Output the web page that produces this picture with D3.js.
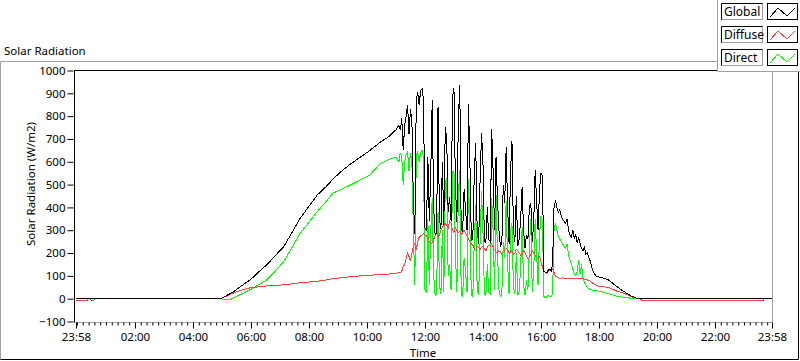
<!DOCTYPE html>
<html>
<head>
<meta charset="utf-8">
<script src="https://cdn.jsdelivr.net/npm/d3@7"></script>
<style>
  body { margin: 0; background: #fff; }
  svg text { font-family: "Noto Sans", sans-serif; font-size: 11.5px; fill: #000; }
</style>
</head>
<body>
<div id="chart"></div>
<script>
// time of each sample, minutes after midnight (-2 = 23:58 of the day before)
var minutes = [
  -2, 22, 23, 28, 29, 35, 36, 297, 305, 313, 317, 324, 335, 345, 359, 375, 393, 410, 428, 445,
  462, 480, 497, 515, 530, 548, 566, 586, 605, 627, 645, 660, 666, 669,
  672, 675, 678, 681, 684, 687, 690, 693, 696, 699, 702, 705, 708, 711, 714, 717, 720, 723, 726, 729,
  732, 735, 738, 741, 744, 747, 750, 753, 756, 759, 762, 765, 768, 771, 774, 777, 780, 783, 786, 789,
  792, 795, 798, 801, 804, 807, 810, 813, 816, 819, 822, 825, 828, 831, 834, 837, 840, 843, 846, 849,
  852, 855, 858, 861, 864, 867, 870, 873, 876, 879, 882, 885, 888, 891, 894, 897, 900, 903, 906, 909,
  912, 915, 918, 921, 924, 927, 930, 933, 936, 939, 942, 945, 948, 951, 954, 957, 960, 963, 966, 969,
  972, 975, 978, 981, 984, 987, 990, 993, 996, 999, 1002, 1005, 1008, 1011, 1014, 1017, 1020,
  1023, 1026, 1029, 1032, 1035, 1038, 1041, 1044, 1047, 1050, 1053, 1056, 1059, 1062, 1066, 1070,
  1075, 1080, 1090, 1100, 1110, 1117, 1125, 1138, 1148, 1155, 1158, 1162, 1165, 1168, 1420, 1421, 1438
];

var globalRad = [
  0, 0, 0, 0, 0, 0, 0, 0, 8, 18, 22, 31, 48, 63, 83, 115, 149, 188, 229, 290,
  353, 405, 454, 490, 525, 560, 590, 620, 648, 685, 710, 740, 760, 738,
  790, 650, 760, 800, 850, 720, 830, 780, 430, 285, 870, 905, 850, 912, 920, 870, 310, 300, 620, 340,
  560, 870, 400, 280, 290, 838, 350, 305, 600, 325, 752, 700, 380, 445, 340, 880, 925, 500, 335, 780,
  935, 300, 295, 480, 390, 300, 855, 600, 256, 260, 550, 680, 300, 240, 520, 725, 600, 250, 245, 400,
  260, 250, 745, 560, 300, 620, 437, 300, 230, 240, 500, 420, 665, 400, 240, 560, 690, 300, 250, 450,
  230, 260, 350, 490, 300, 220, 280, 260, 400, 420, 250, 330, 563, 430, 300, 480, 550, 540, 120, 115,
  113, 125, 130, 120, 150, 402, 430, 400, 380, 390, 360, 345, 340, 330, 350, 300, 280,
  270, 300, 265, 280, 245, 270, 240, 220, 210, 225, 195, 200, 180, 165, 130, 110,
  98, 95, 90, 82, 65, 53, 40, 23, 10, 5, 2, 0, 0, 0, 0, 0, 0
];

var diffuseRad = [
  -6, -6, 0, 0, -6, -6, 0, 0, 8, 14, 18, 25, 33, 40, 48, 52, 56, 58, 61, 65,
  70, 73, 76, 82, 88, 92, 96, 100, 103, 105, 108, 112, 113, 113,
  120, 141, 150, 175, 200, 185, 165, 200, 230, 240, 215, 250, 270, 275, 280, 285, 280, 275, 265, 250,
  240, 245, 260, 275, 290, 270, 280, 300, 315, 320, 330, 320, 310, 340, 330, 300, 290, 310, 300, 290,
  295, 280, 290, 300, 285, 275, 260, 250, 240, 235, 220, 215, 230, 225, 215, 225, 230, 220, 210, 225,
  235, 230, 240, 225, 215, 205, 200, 210, 205, 195, 200, 210, 220, 215, 200, 205, 210, 195, 200, 215,
  210, 200, 190, 205, 210, 200, 185, 175, 180, 195, 210, 200, 190, 180, 175, 185, 160, 140, 120, 115,
  110, 118, 125, 120, 130, 115, 100, 95, 92, 88, 90, 92, 88, 90, 88, 90, 88,
  88, 90, 89, 90, 88, 90, 89, 88, 88, 86, 84, 82, 80, 76, 70, 64,
  58, 54, 52, 49, 40, 33, 28, 18, 8, 4, 2, 0, 0, -6, -6, 0, 0
];

var directRad = [
  0, 0, 0, 0, 0, 0, 0, 0, -5, -5, -5, 5, 15, 25, 40, 60, 83, 120, 163, 225,
  287, 335, 381, 425, 463, 480, 498, 520, 540, 590, 610, 620, 600, 640,
  620, 500, 600, 630, 645, 560, 640, 600, 300, 60, 630, 645, 600, 640, 650, 620, 40, 25, 350, 60,
  300, 440, 100, 15, 20, 380, 60, 20, 300, 30, 505, 530, 100, 150, 40, 555, 560, 200, 30, 450,
  565, 20, 10, 180, 120, 30, 525, 300, 15, 10, 250, 410, 40, 15, 250, 470, 300, 20, 15, 150,
  25, 20, 440, 300, 40, 455, 200, 40, 10, 20, 250, 180, 430, 150, 20, 300, 330, 50, 20, 200,
  15, 30, 140, 315, 60, 15, 80, 40, 220, 350, 30, 120, 350, 200, 60, 280, 360, 340, 10, 5,
  8, 15, 10, 8, 20, 300, 330, 300, 270, 260, 250, 240, 230, 220, 240, 190, 170,
  150, 130, 110, 100, 120, 170, 110, 150, 90, 70, 60, 50, 45, 40, 38, 36,
  35, 33, 28, 22, 15, 10, 8, 4, 2, 1, 0, 0, 0, 0, 0, 0, 0
];

var seriesNames = ["Global", "Diffuse", "Direct"];
var yTickValues = [-100, 0, 100, 200, 300, 400, 500, 600, 700, 800, 900, 1000];
var xTickMinutes = [-2, 120, 240, 360, 480, 600, 720, 840, 960, 1080, 1200, 1320, 1438];
var xTickLabels = ["23:58", "02:00", "04:00", "06:00", "08:00", "10:00", "12:00", "14:00",
  "16:00", "18:00", "20:00", "22:00", "23:58"];

var colors = { Global: "#000000", Diffuse: "#ff4040", Direct: "#00ff00" };

var width = 800;
var height = 361;
var plot = { left: 74.5, top: 70.5, right: 772.5, bottom: 322.5 };

var svg = d3.select("#chart")
  .append("svg")
  .attr("width", width)
  .attr("height", height);

// outer frame (gray top/left, black right/bottom)
svg.append("path")
  .attr("d", "M0.5,359.5 L0.5,61.5 L798.5,61.5")
  .style("fill", "none").style("stroke", "#a0a0a0");
svg.append("path")
  .attr("d", "M0.5,359.5 L798.5,359.5 L798.5,61.5")
  .style("fill", "none").style("stroke", "#000");

svg.append("text")
  .attr("x", 4)
  .attr("y", 55)
  .text("Solar Radiation");

// plot area border
svg.append("rect")
  .attr("x", plot.left).attr("y", plot.top)
  .attr("width", plot.right - plot.left).attr("height", plot.bottom - plot.top)
  .style("fill", "#fff");
svg.append("path")
  .attr("d", "M" + plot.left + "," + plot.bottom + " L" + plot.right + "," + plot.bottom + " L" + plot.right + "," + plot.top)
  .style("fill", "none").style("stroke", "#a0a0a0");
svg.append("path")
  .attr("d", "M" + plot.left + "," + plot.bottom + " L" + plot.left + "," + plot.top + " L" + plot.right + "," + plot.top)
  .style("fill", "none").style("stroke", "#000");

// scales
var xScale = d3.scaleLinear().domain([-2, 1438]).range([76, 772]);
var yScale = d3.scaleLinear().domain([-100, 1000]).range([321.5, 70.5]);

// y axis
var yAxis = svg.append("g")
  .attr("transform", "translate(73.5,0)")
  .call(d3.axisLeft(yScale).tickValues(yTickValues).tickSize(6).tickPadding(2).tickFormat(d3.format("d")));
yAxis.select(".domain").remove();
yAxis.selectAll("text").style("font-family", "Noto Sans").style("font-size", "11.5px");

// x axis, minor ticks every 12 minutes
var minorTicks = d3.range(0, 1438, 12).filter(function (m) { return m === 0 || m % 120 !== 0; });
var xMinor = svg.append("g")
  .attr("transform", "translate(0," + plot.bottom + ")")
  .call(d3.axisBottom(xScale).tickValues(minorTicks).tickSize(3).tickFormat(""));
xMinor.select(".domain").remove();

var xAxis = svg.append("g")
  .attr("transform", "translate(0," + plot.bottom + ")")
  .call(d3.axisBottom(xScale).tickValues(xTickMinutes).tickSize(6).tickPadding(4)
    .tickFormat(function (d, i) { return xTickLabels[i]; }));
xAxis.select(".domain").remove();
xAxis.selectAll("text").style("font-family", "Noto Sans").style("font-size", "11.5px");

// axis titles
svg.append("text")
  .attr("transform", "translate(35,184) rotate(-90)")
  .attr("text-anchor", "middle")
  .text("Solar Radiation (W/m2)");

svg.append("text")
  .attr("x", 423)
  .attr("y", 357)
  .attr("text-anchor", "middle")
  .text("Time");

// plots
var seriesData = {
  Global: globalRad,
  Diffuse: diffuseRad,
  Direct: directRad
};

var line = function (values) {
  return d3.line()
    .x(function (d) { return xScale(minutes[d]); })
    .y(function (d) { return yScale(values[d]); })(d3.range(minutes.length));
};

// direct first, global last so the zero line stays black
["Direct", "Diffuse", "Global"].forEach(function (name) {
  svg.append("path")
    .attr("d", line(seriesData[name]))
    .style("fill", "none")
    .style("stroke", colors[name])
    .style("stroke-width", 1)
    .style("shape-rendering", "crispEdges");
});

// legend panel
svg.append("rect")
  .attr("x", 718).attr("y", 0).attr("width", 82).attr("height", 71.5)
  .style("fill", "#fff");
svg.append("path")
  .attr("d", "M717.5,0 L717.5,71.5 L800,71.5")
  .style("fill", "none").style("stroke", "#a0a0a0");

var legend = svg.selectAll(".legendItem").data(seriesNames)
  .enter()
  .append("g")
  .attr("class", "legendItem")
  .attr("transform", function (d, i) { return "translate(0," + (i * 23) + ")"; });

legend.append("rect")
  .attr("x", 721.5).attr("y", 3.5).attr("width", 41).attr("height", 16)
  .style("fill", "#fff").style("stroke", "#a0a0a0");
legend.append("path")
  .attr("d", "M721.5,19.5 L721.5,3.5 L762.5,3.5")
  .style("fill", "none").style("stroke", "#000");
legend.append("text")
  .attr("x", 724)
  .attr("y", 16)
  .style("font-size", "12px")
  .text(function (d) { return d; });

legend.append("rect")
  .attr("x", 767.5).attr("y", 3.5).attr("width", 30).attr("height", 16)
  .style("fill", "#fff").style("stroke", "#000");
legend.append("path")
  .attr("d", "M770,17 L778,8 L787,16 L795,8")
  .style("fill", "none")
  .style("stroke", function (d) { return colors[d]; })
  .style("shape-rendering", "crispEdges");
</script>
</body>
</html>
